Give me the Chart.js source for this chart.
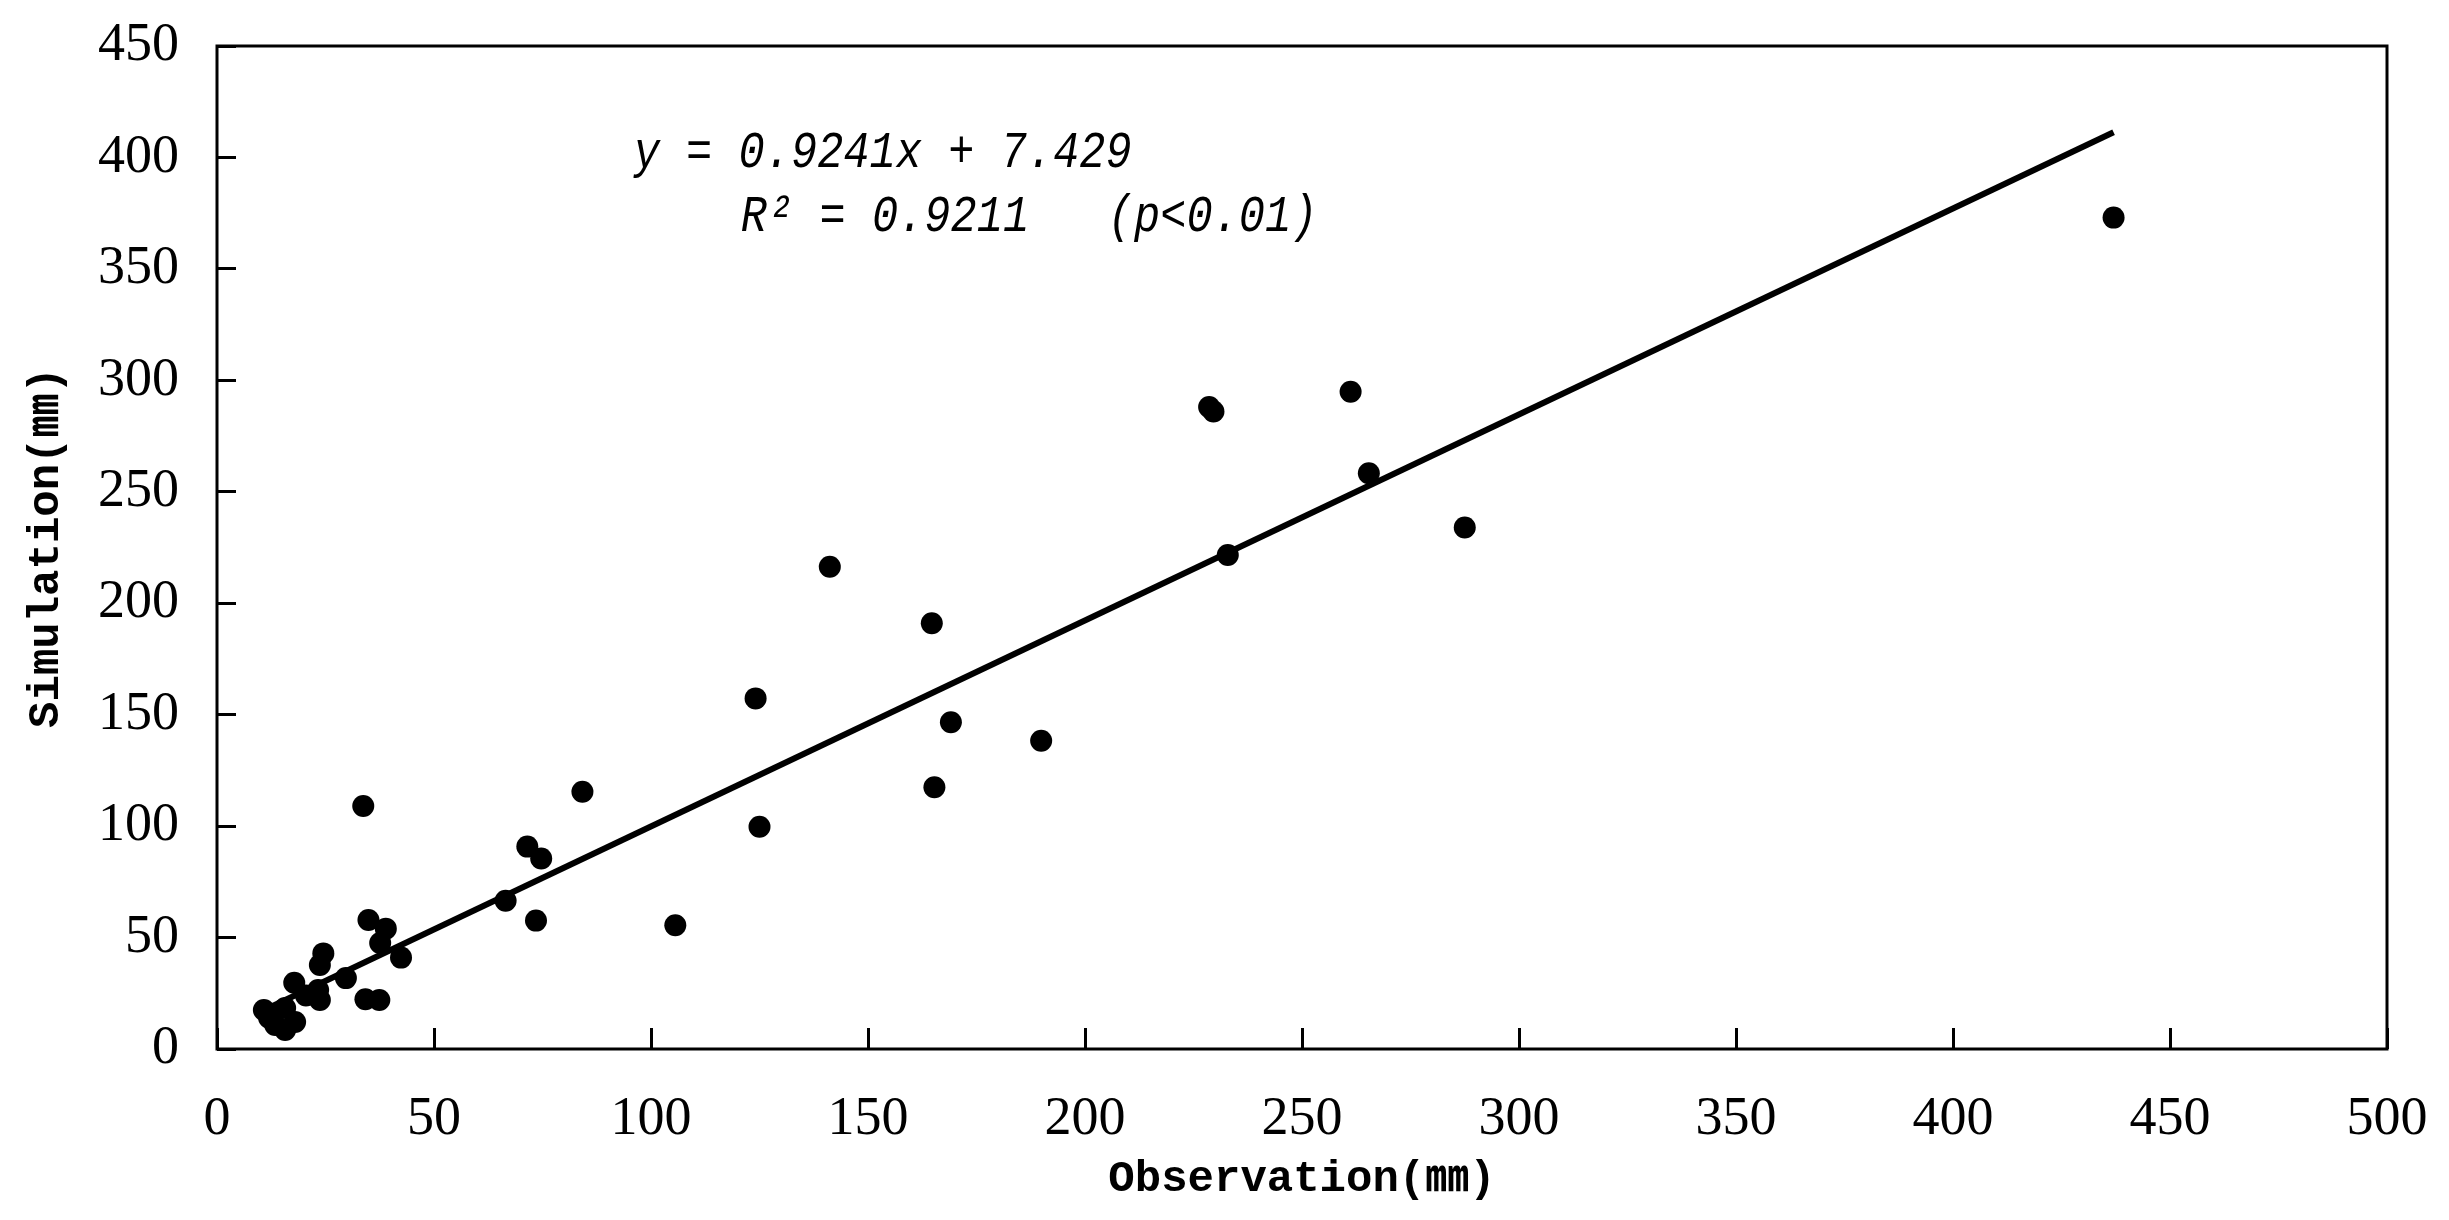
<!DOCTYPE html>
<html>
<head>
<meta charset="utf-8">
<script src="https://cdn.jsdelivr.net/npm/chart.js@4.4.1/dist/chart.umd.min.js"></script>
<style>
  html, body { margin: 0; padding: 0; background: #fff; }
  #wrap { width: 2449px; height: 1220px; }
</style>
</head>
<body>
<div id="wrap"><canvas id="chart"></canvas></div>
<script>
const observation = [437, 287.5, 265.4, 261.2, 228.6, 229.6, 232.9, 189.9, 169.1, 165.3,
  164.7, 141.2, 125.0, 124.1, 105.6, 84.2, 74.7, 71.5, 73.5, 66.5,
  42.4, 37.6, 38.9, 34.9, 33.7, 37.4, 34.2, 29.7, 24.5, 23.7,
  23.7, 17.8, 23.3, 20.5, 10.8, 15.7, 13.4, 18.0, 15.7, 12.0];
const simulation = [373, 234, 258.3, 294.9, 288, 286, 221.6, 138.3, 146.6, 117.4,
  191.0, 216.4, 99.7, 157.3, 55.5, 115.4, 85.5, 90.8, 57.6, 66.5,
  41, 47.6, 54, 57.9, 109, 22, 22.3, 31.8, 42.9, 37.7,
  22, 29.7, 26.5, 24, 17.5, 18.4, 10.8, 12.1, 8.5, 14];

// ends of the fitted line as drawn
const fitX = [11, 437];
const fitY = [17.6, 411.3];

const xTicks = [0, 50, 100, 150, 200, 250, 300, 350, 400, 450, 500];
const yTicks = [0, 50, 100, 150, 200, 250, 300, 350, 400, 450];

const equationText = 'y = 0.9241x + 7.429';
const r2Text = 'R² = 0.9211   (p<0.01)';

const labelFont = { family: "'Liberation Serif', serif", size: 54 };
const titleFont = { family: "'Liberation Mono', 'Noto Sans CJK SC', monospace", size: 44, weight: 'bold' };

// tick marks point into the plot, like the original
const inwardTicks = (len) => ({
  display: true,
  drawOnChartArea: false,
  drawTicks: true,
  tickLength: -len,
  tickWidth: 3,
  tickColor: '#000'
});

// plot box and the regression text
const frame = {
  id: 'frame',
  afterDraw(chart) {
    const { ctx, chartArea: a, scales: { x, y } } = chart;
    ctx.save();
    ctx.strokeStyle = '#000';
    ctx.lineWidth = 3;
    ctx.strokeRect(a.left, a.top, a.right - a.left, a.bottom - a.top);

    // narrow, tall italic text like the original
    ctx.fillStyle = '#000';
    ctx.font = 'italic 52px "Liberation Mono", monospace';
    ctx.textBaseline = 'middle';
    ctx.textAlign = 'left';
    const sx = 0.84;
    ctx.scale(sx, 1);
    ctx.fillText(equationText, x.getPixelForValue(96) / sx, y.getPixelForValue(402));
    ctx.fillText(r2Text, x.getPixelForValue(120.7) / sx, y.getPixelForValue(373.3));
    ctx.restore();
  }
};

const points = observation.map((v, i) => ({ x: v, y: simulation[i] }));
const fitLine = fitX.map((v, i) => ({ x: v, y: fitY[i] }));

new Chart(document.getElementById('chart'), {
  type: 'scatter',
  data: {
    datasets: [
      {
        data: points,
        backgroundColor: '#000',
        borderWidth: 0,
        pointRadius: 11,
        pointHoverRadius: 11
      },
      {
        data: fitLine,
        showLine: true,
        borderColor: '#000',
        borderWidth: 6,
        pointRadius: 0
      }
    ]
  },
  options: {
    responsive: true,
    maintainAspectRatio: false,
    animation: false,
    layout: { padding: { top: 46, right: 62, left: 0, bottom: 0 } },
    plugins: { legend: { display: false }, tooltip: { enabled: false } },
    scales: {
      x: {
        type: 'linear',
        min: 0,
        max: 500,
        afterFit(s) {
          s.height = 171;
          s.paddingLeft = 0;
          s.paddingRight = 0;
        },
        afterBuildTicks(s) { s.ticks = xTicks.map(v => ({ value: v })); },
        grid: inwardTicks(21),
        border: { display: false },
        ticks: { color: '#000', font: labelFont, padding: 59, maxRotation: 0, autoSkip: false },
        title: {
          display: true,
          text: 'Observation(㎜)',
          color: '#000',
          font: titleFont,
          padding: { top: 0, bottom: 14 }
        }
      },
      y: {
        type: 'linear',
        min: 0,
        max: 450,
        afterFit(s) {
          s.width = 217;
          s.paddingTop = 0;
          s.paddingBottom = 0;
        },
        afterBuildTicks(s) { s.ticks = yTicks.map(v => ({ value: v })); },
        grid: inwardTicks(19),
        border: { display: false },
        ticks: { color: '#000', font: labelFont, padding: 57, autoSkip: false },
        title: {
          display: true,
          text: 'Simulation(㎜)',
          color: '#000',
          font: titleFont,
          padding: { top: 21, bottom: 0 }
        }
      }
    }
  },
  plugins: [frame]
});
</script>
</body>
</html>
